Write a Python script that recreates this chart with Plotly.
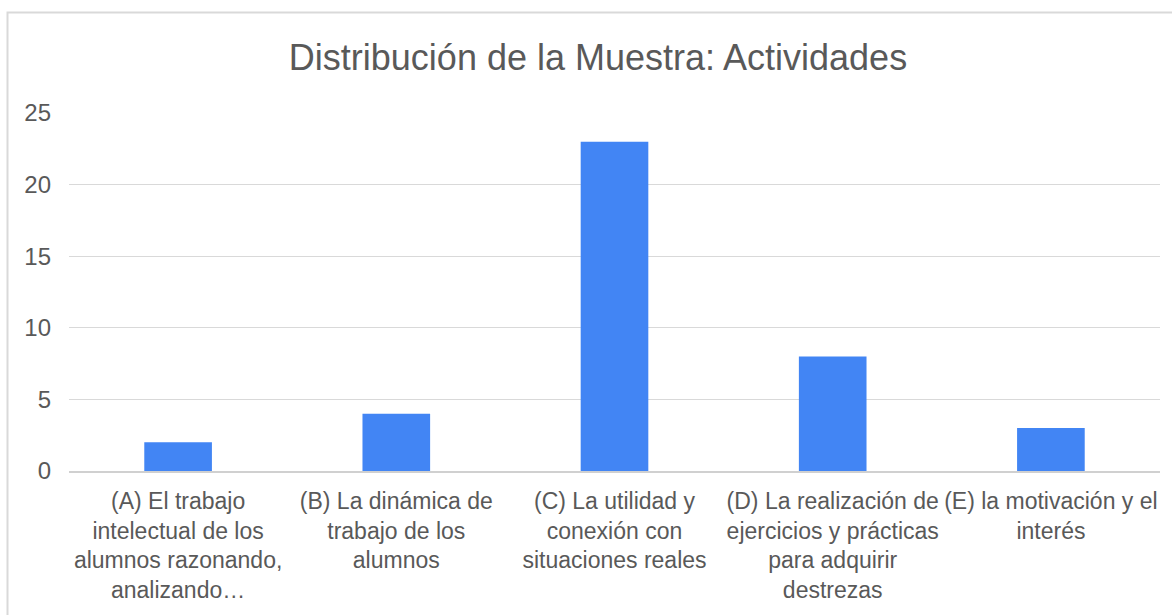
import plotly.graph_objects as go

categories = [
    "(A) El trabajo<br>intelectual de los<br>alumnos razonando,<br>analizando…",
    "(B) La dinámica de<br>trabajo de los<br>alumnos",
    "(C) La utilidad y<br>conexión con<br>situaciones reales",
    "(D) La realización de<br>ejercicios y prácticas<br>para adquirir<br>destrezas",
    "(E) la motivación y el<br>interés",
]
values = [2, 4, 23, 8, 3]
y_ticks = [0, 5, 10, 15, 20, 25]
title_text = "Distribución de la Muestra: Actividades"

W, H = 1172, 615
L, T = 69, 113
R = W - 1160
B = H - 473
pw, ph = W - L - R, H - T - B

def px_to_paper_x(px):
    return (px - L) / pw

def px_to_paper_y(py):
    return (H - B - py) / ph

FONT = "Liberation Sans, Arial, sans-serif"
GREY = "#595959"

fig = go.Figure(go.Bar(
    x=categories,
    y=values,
    marker=dict(color="#4285F4", line=dict(width=0)),
))

fig.update_layout(
    width=W, height=H,
    autosize=False,
    margin=dict(l=L, r=R, t=T, b=B),
    paper_bgcolor="white",
    plot_bgcolor="white",
    bargap=0.69,
    showlegend=False,
    title=dict(
        text=title_text,
        x=px_to_paper_x(598), xref="paper", xanchor="center",
        y=1 - 57 / H, yref="container", yanchor="middle",
        font=dict(family=FONT, size=36, color=GREY),
    ),
    font=dict(family=FONT, color=GREY),
    xaxis=dict(
        showgrid=False,
        tickfont=dict(family=FONT, size=23, color=GREY),
        ticks="",
        showline=True, linecolor="#d0d0d0", linewidth=2,
        tickangle=0,
        ticklabelstandoff=8,
    ),
    yaxis=dict(
        range=[0, 25],
        tickvals=y_ticks,
        showgrid=True, gridcolor="#d9d9d9", gridwidth=1,
        zeroline=False,
        showline=False,
        tickfont=dict(family=FONT, size=24, color=GREY),
        ticklabelstandoff=17,
    ),
    shapes=[
        dict(type="rect", xref="paper", yref="paper",
             x0=px_to_paper_x(7.5), x1=px_to_paper_x(1185),
             y0=px_to_paper_y(630), y1=px_to_paper_y(12),
             line=dict(color="#d9d9d9", width=2), fillcolor="rgba(0,0,0,0)",
             layer="below"),
    ],
)

fig.write_html(
    "out.html",
    config={"displayModeBar": False, "responsive": False},
    post_script="document.body.style.margin='0px';document.body.style.overflow='hidden';",
)
